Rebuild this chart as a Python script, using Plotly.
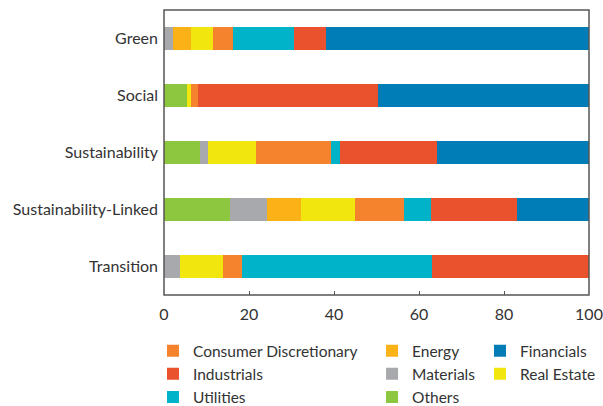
import plotly.graph_objects as go

# Bond types, top to bottom
categories = ["Green", "Social", "Sustainability", "Sustainability-Linked", "Transition"]

# Sector shares (%) per bond type, in stacking order from the left
others = [0.0, 5.4, 8.4, 15.6, 0.0]
materials = [2.0, 0.0, 1.9, 8.6, 3.8]
energy = [4.3, 0.0, 0.0, 8.0, 0.0]
real_estate = [5.2, 0.9, 11.3, 12.7, 10.1]
consumer_discretionary = [4.7, 1.6, 17.8, 11.6, 4.5]
utilities = [14.3, 0.0, 2.0, 6.3, 44.7]
industrials = [7.7, 42.5, 22.8, 20.2, 36.9]
financials = [61.8, 49.6, 35.8, 17.0, 0.0]

x_ticks = [0, 20, 40, 60, 80, 100]

# name, values, colour, legend column, rank within column
series = [
    ("Others", others, "#8DC63F", "legend2", 3),
    ("Materials", materials, "#A7A9AC", "legend2", 2),
    ("Energy", energy, "#FBB217", "legend2", 1),
    ("Real Estate", real_estate, "#F1E60E", "legend3", 2),
    ("Consumer Discretionary", consumer_discretionary, "#F5822D", "legend", 1),
    ("Utilities", utilities, "#00B3C8", "legend", 3),
    ("Industrials", industrials, "#EA512D", "legend", 2),
    ("Financials", financials, "#007DB7", "legend3", 1),
]

FONT = "Lato"
TEXT = "#333333"
AXIS = "#555555"

fig = go.Figure()
for name, vals, color, leg, rank in series:
    fig.add_trace(go.Bar(
        y=categories, x=vals, name=name, orientation="h",
        marker=dict(color=color, line=dict(width=0)),
        legend=leg, legendrank=rank,
    ))

legend_common = dict(
    orientation="v", yanchor="top", xanchor="left",
    xref="container", yref="container", y=0.177,
    traceorder="normal",
    font=dict(family=FONT, size=15.5, color=TEXT),
    bgcolor="rgba(0,0,0,0)", tracegroupgap=0,
)

fig.update_layout(
    width=603, height=406,
    margin=dict(l=164, r=14, t=10, b=111, autoexpand=False),
    barmode="stack", bargap=0.6,
    plot_bgcolor="white", paper_bgcolor="white",
    font=dict(family=FONT, size=16, color=TEXT),
    legend=dict(x=0.2537, **legend_common),
    legend2=dict(x=0.617, **legend_common),
    legend3=dict(x=0.796, **legend_common),
    xaxis=dict(
        range=[0, 100], tickvals=x_ticks, ticks="inside", ticklen=4,
        tickcolor=AXIS, showline=False, showgrid=False, zeroline=False,
        ticklabelstandoff=8, ticklabeloverflow="allow",
        tickfont=dict(family=FONT, size=16, color=TEXT),
    ),
    yaxis=dict(
        categoryorder="array", categoryarray=categories,
        autorange=False, range=[4.5, -0.5],
        showline=False, showgrid=False, zeroline=False,
        ticks="", ticklabelstandoff=5,
        tickfont=dict(family=FONT, size=16, color=TEXT),
    ),
)

# box around the plotting area
fig.add_shape(type="rect", xref="paper", yref="paper",
              x0=0, x1=1, y0=0, y1=1, layer="above",
              line=dict(color=AXIS, width=1.5))

fig.write_html("out.html")
